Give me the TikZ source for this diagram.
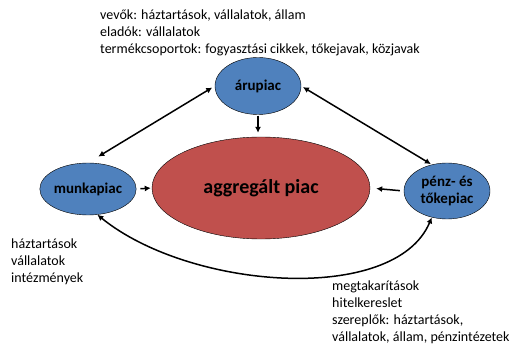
\documentclass[tikz,border=0pt]{standalone}
\usepackage{fontspec}
\setmainfont{Carlito}
\usepackage{xcolor}
\usetikzlibrary{shapes.geometric, arrows.meta, positioning}

\definecolor{piackek}{HTML}{4F81BD}
\definecolor{aggpiros}{HTML}{C0504D}

\tikzset{
  piac/.style={ellipse, draw=black, fill=piackek, inner sep=0pt, font=\fontsize{15}{17}\selectfont\bfseries, align=center},
  nyil/.style={line width=1.5pt, {Latex[length=6pt,width=6pt]}-{Latex[length=6pt,width=6pt]}},
  egynyil/.style={line width=1.5pt, -{Latex[length=6pt,width=6pt]}},
  leiras/.style={anchor=north west, align=left, inner sep=0pt, font=\fontsize{14}{16.7}\selectfont}
}

\begin{document}
\begin{tikzpicture}[x=1pt, y=-1pt]
\useasboundingbox (0,0) rectangle (510,344);
% piacok
\node[piac, minimum width=86pt, minimum height=57pt] (aru) at (258,86) {árupiac};
\node[piac, minimum width=86pt, minimum height=52pt] (munka) at (88,189) {munkapiac};
\node[piac, minimum width=86pt, minimum height=56pt] (penz) at (447,191) {pénz- és\\tőkepiac};
\node[ellipse, draw=black, fill=aggpiros, minimum width=218pt, minimum height=102pt, font=\fontsize{20}{22}\selectfont\bfseries] (aggr) at (261,188) {aggregált piac};
% kapcsolatok
\draw[nyil, shorten <=12pt, shorten >=3pt] (munka.north) -- (aru.west);
\draw[nyil, shorten <=2pt, shorten >=1pt] (aru.east) -- (penz.120);
\draw[egynyil, shorten <=1pt, shorten >=4pt] (aru.south) -- (aru.south |- aggr.north);
\draw[egynyil, shorten <=4pt, shorten >=1pt] (munka.east) -- (aggr.west);
\draw[egynyil, shorten <=4pt, shorten >=6pt] (penz.west) -- (aggr.west -| aggr.east);
\draw[nyil] (munka.-70) .. controls (190,290) and (395,305) .. (penz.-120);
% szovegek
\node[leiras] (arutxt) at (100,10) {vevők: háztartások, vállalatok, állam\\eladók: vállalatok\\termékcsoportok: fogyasztási cikkek, tőkejavak, közjavak};
\node[leiras] (munkatxt) at (11,239) {háztartások\\vállalatok\\intézmények};
\node[leiras] (penztxt) at (332,281) {megtakarítások\\hitelkereslet\\szereplők: háztartások,\\vállalatok, állam, pénzintézetek};
\end{tikzpicture}
\end{document}
